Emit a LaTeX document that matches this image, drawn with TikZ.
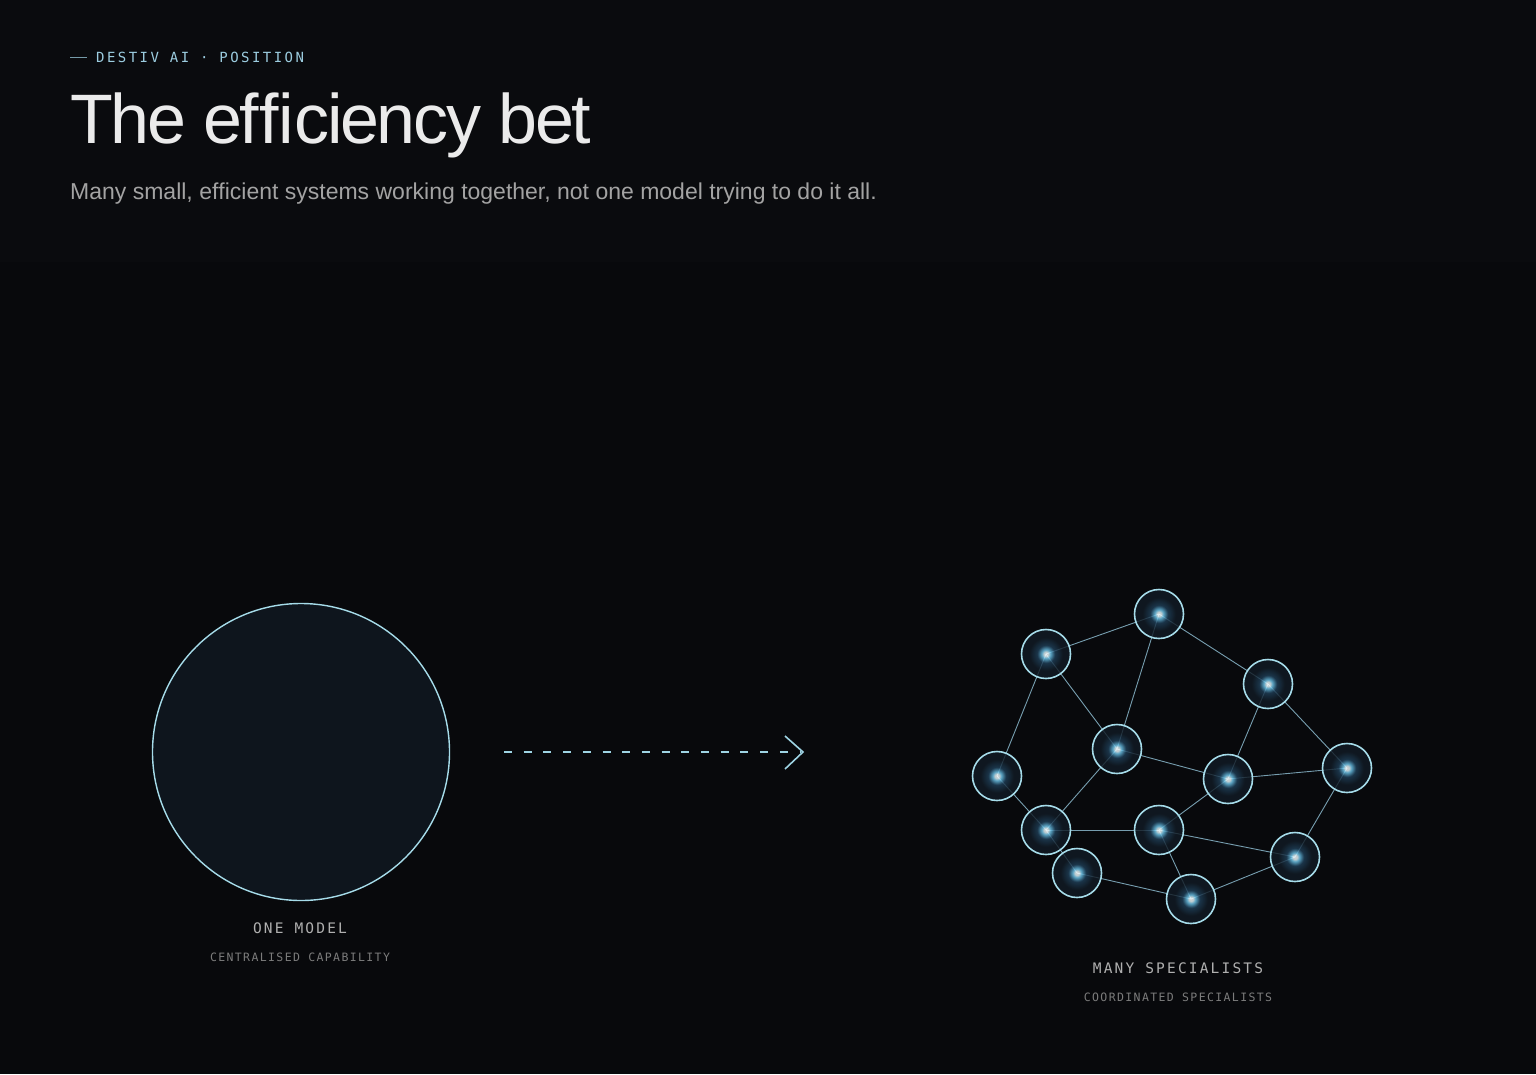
\documentclass[tikz,border=0pt]{standalone}
\usepackage{fontspec}
\setmainfont[Ligatures=NoCommon]{Liberation Sans}
\newfontfamily\monols[LetterSpace=15]{DejaVu Sans Mono}
\newfontfamily\monolsk[LetterSpace=17.5]{DejaVu Sans Mono}
\newfontfamily\monolsb[LetterSpace=12]{DejaVu Sans Mono}
\newfontfamily\titlefont[LetterSpace=-3.3,Ligatures=NoCommon]{Liberation Sans}
\newcommand\brk{\kern0pt\relax}
\definecolor{bgtop}{HTML}{0A0B0E}
\definecolor{bgbot}{HTML}{08090C}
\definecolor{kicker}{HTML}{9CCDE0}
\definecolor{titlec}{HTML}{EBEBEB}
\definecolor{subc}{HTML}{A3A3A3}
\definecolor{capc}{HTML}{B0B0B0}
\definecolor{subcap}{HTML}{7C7C7C}
\definecolor{ring}{HTML}{A6DCEA}
\definecolor{bigfill}{HTML}{0E151D}
\definecolor{nodefill}{HTML}{111B25}
\definecolor{edgec}{HTML}{8AB8CC}
\definecolor{arrowc}{HTML}{9ED4E4}
\definecolor{glowcore}{HTML}{EAFBFF}
\definecolor{glowmid}{HTML}{6CC6EC}
\definecolor{glowout}{HTML}{1F3F58}
\pgfdeclareradialshading{glow}{\pgfpoint{0bp}{0bp}}{%
  color(0bp)=(white); color(2.2bp)=(glowcore); color(4.5bp)=(glowmid);
  color(9bp)=(glowout); color(17bp)=(nodefill); color(25bp)=(nodefill); color(50bp)=(nodefill)}
\tikzset{
  spec/.style={circle, minimum size=49pt, inner sep=0pt, draw=ring, line width=1.6pt},
  link/.style={draw=edgec, line width=0.9pt, opacity=0.85},
  capst/.style={font=\monols\fontsize{14.5}{16}\selectfont, text=capc, anchor=base},
  subcapst/.style={font=\monolsb\fontsize{11.5}{13}\selectfont, text=subcap, anchor=base},
}
\begin{document}
\begin{tikzpicture}[x=1pt,y=-1pt]
\fill[bgtop] (0,0) rectangle (1536,1074);
\fill[bgbot] (0,262) rectangle (1536,1074);
\useasboundingbox (0,0) rectangle (1536,1074);

% header
\coordinate (k1) at (70,57);
\coordinate (k2) at (87,57);
\draw[kicker!75!black, line width=1pt] (k1) -- (k2);
\node[anchor=base west, inner sep=0pt, text=kicker, font=\monolsk\fontsize{14}{16}\selectfont] (kick) at (96,62) {DESTIV AI · POSITION};
\node[anchor=base west, inner sep=0pt, text=titlec, font=\titlefont\fontsize{70}{80}\selectfont] (title) at (70,143) {The ef\brk f\brk i\brk ciency bet};
\node[anchor=base west, inner sep=0pt, text=subc, font=\fontsize{23}{26}\selectfont] (sub) at (70,199) {Many small, ef\brk f\brk i\brk cient systems working together, not one model trying to do it all.};

% one model
\node[circle, minimum size=297pt, inner sep=0pt, draw=ring, line width=1.4pt, fill=bigfill] (big) at (301,752) {};
\node[capst, inner sep=0pt] (onecap) at (300,933) {ONE MODEL};
\node[subcapst, inner sep=0pt] (onesub) at (300,961) {CENTRALISED CAPABILITY};

% arrow
\coordinate (a1) at (504,752);
\coordinate (a2) at (800,752);
\coordinate (t1) at (785,736);
\coordinate (t3) at (785,769);
\coordinate (tip) at (803,752);
\draw[arrowc, line width=1.4pt, dash pattern=on 8pt off 11.7pt] (a1) -- (a2);
\draw[arrowc, line width=1.6pt, line join=miter] (t1) -- (tip) -- (t3);

% specialists
\coordinate (A) at (1159,614);
\coordinate (B) at (1046,654);
\coordinate (C) at (1268,684);
\coordinate (D) at (1117,749);
\coordinate (E) at (997,776);
\coordinate (F) at (1228,779);
\coordinate (G) at (1347,768);
\coordinate (H) at (1046,830);
\coordinate (I) at (1159,830);
\coordinate (J) at (1295,857);
\coordinate (K) at (1077,873);
\coordinate (L) at (1191,899);

\foreach \u/\v in {B/A,A/C,A/D,B/D,B/E,C/F,C/G,D/F,D/H,E/H,F/G,F/I,H/I,H/K,I/J,I/L,K/L,L/J,G/J}
  \draw[link] (\u) -- (\v);

\foreach \n in {A,B,C,D,E,F,G,H,I,J,K,L}{
  \shade[shading=glow, opacity=0.82] (\n) circle[radius=24.5pt];
  \node[spec] (n\n) at (\n) {};
}

\node[capst, inner sep=0pt] (manycap) at (1178,973) {MANY SPECIALISTS};
\node[subcapst, inner sep=0pt] (manysub) at (1178,1001) {COORDINATED SPECIALISTS};
\end{tikzpicture}
\end{document}
